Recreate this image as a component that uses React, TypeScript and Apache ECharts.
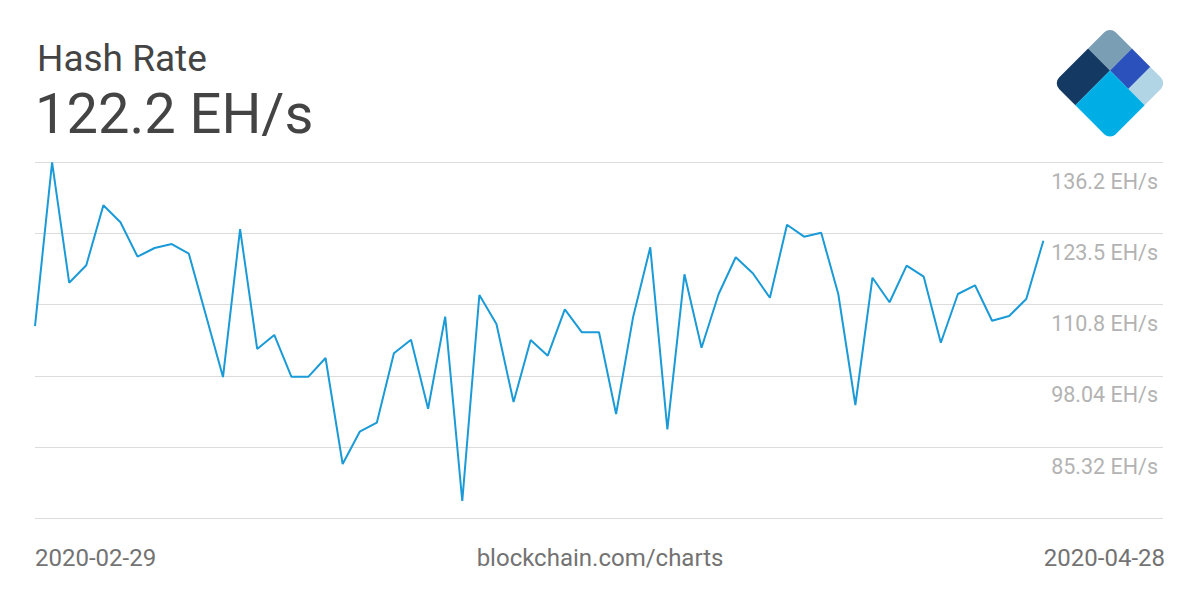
import React, { useEffect, useRef } from "react";
import * as echarts from "echarts";

const titleText = "Hash Rate";
const currentValue = "122.2 EH/s";
const startDate = "2020-02-29";
const endDate = "2020-04-28";
const sourceText = "blockchain.com/charts";

// Daily hash rate (EH/s), 2020-02-29 .. 2020-04-28
const hashRate: number[] = [
  106.95, 136.2, 114.69, 117.8, 128.52, 125.48, 119.34, 120.89, 121.6, 119.87,
  108.87, 97.84, 124.28, 102.85, 105.35, 97.9, 97.9, 101.24, 82.3, 88.07,
  89.68, 102.08, 104.51, 92.18, 108.62, 75.69, 112.49, 107.31, 93.38, 104.45,
  101.65, 109.94, 105.83, 105.83, 91.23, 108.62, 121.01, 88.5, 116.19, 103.08,
  112.67, 119.23, 116.37, 112.01, 125.05, 122.91, 123.62, 112.67, 92.84, 115.58,
  111.19, 117.73, 115.76, 103.97, 112.67, 114.23, 107.9, 108.74, 111.78, 122.2,
];

const yMin = 72.6;
const yMax = 136.2;
const yStep = 12.72;
const xMaxIndex = 66;

const FONT = "Roboto";

export default function App() {
  const ref = useRef<HTMLDivElement>(null);

  useEffect(() => {
    if (!ref.current) return;
    const chart = echarts.init(ref.current, null, { renderer: "svg" });
    const L = 80;
    const s = 31;
    const r = 8;
    chart.setOption({
      animation: false,
      backgroundColor: "#ffffff",
      grid: { left: 35, right: 37, top: 162.3, bottom: 81.7, containLabel: false },
      xAxis: {
        type: "value",
        min: 0,
        max: xMaxIndex,
        show: false,
      },
      yAxis: {
        type: "value",
        position: "right",
        min: yMin,
        max: yMax,
        interval: yStep,
        axisLine: { show: false },
        axisTick: { show: false },
        splitLine: { show: true, lineStyle: { color: "#dcdcdc", width: 1 } },
        axisLabel: {
          inside: true,
          margin: 5,
          fontFamily: FONT,
          fontSize: 21.5,
          color: "#b3b3b3",
          verticalAlign: "top",
          lineHeight: 22,
          padding: [8, 0, 0, 0],
          showMinLabel: false,
          formatter: (v: number) => (v < yMin + 1 ? "" : Number(v.toPrecision(4)) + " EH/s"),
        },
      },
      series: [
        {
          type: "line",
          data: hashRate.map((v, i) => [i, v]),
          showSymbol: false,
          symbol: "none",
          lineStyle: { color: "#1a9ad6", width: 2 },
          silent: true,
        },
      ],
      graphic: [
        {
          type: "text",
          left: 37,
          top: 40,
          style: { text: titleText, fontFamily: FONT, fontSize: 37, fill: "#444444" },
        },
        {
          type: "text",
          left: 35,
          top: 86,
          style: { text: currentValue, fontFamily: FONT, fontSize: 56, fill: "#444444" },
        },
        {
          type: "text",
          left: 35,
          top: 545.5,
          style: { text: startDate, fontFamily: FONT, fontSize: 24, fill: "#737373" },
        },
        {
          type: "text",
          right: 35,
          top: 545.5,
          style: { text: endDate, fontFamily: FONT, fontSize: 24, fill: "#737373" },
        },
        {
          type: "text",
          left: "center",
          top: 545.5,
          style: { text: sourceText, fontFamily: FONT, fontSize: 24, fill: "#737373" },
        },
        {
          type: "group",
          x: 1110,
          y: 26.7,
          rotation: -Math.PI / 4,
          children: [
            { type: "rect", shape: { x: 0, y: 0, width: s, height: s, r: [r, 0, 0, 0] }, style: { fill: "#7a9fb4" } },
            { type: "rect", shape: { x: 0, y: s, width: s, height: L - s, r: [0, 0, 0, r] }, style: { fill: "#143962" } },
            { type: "rect", shape: { x: s, y: 0, width: 26, height: s, r: 0 }, style: { fill: "#2b51bd" } },
            { type: "rect", shape: { x: s + 26, y: 0, width: L - s - 26, height: s, r: [0, r, 0, 0] }, style: { fill: "#b2d5e6" } },
            { type: "rect", shape: { x: s, y: s, width: L - s, height: L - s, r: [0, 0, r, 0] }, style: { fill: "#00aee6" } },
          ],
        },
      ],
    });
    return () => chart.dispose();
  }, []);

  return (
    <div
      ref={ref}
      style={{ position: "absolute", left: 0, top: 0, width: 1200, height: 600 }}
    />
  );
}
